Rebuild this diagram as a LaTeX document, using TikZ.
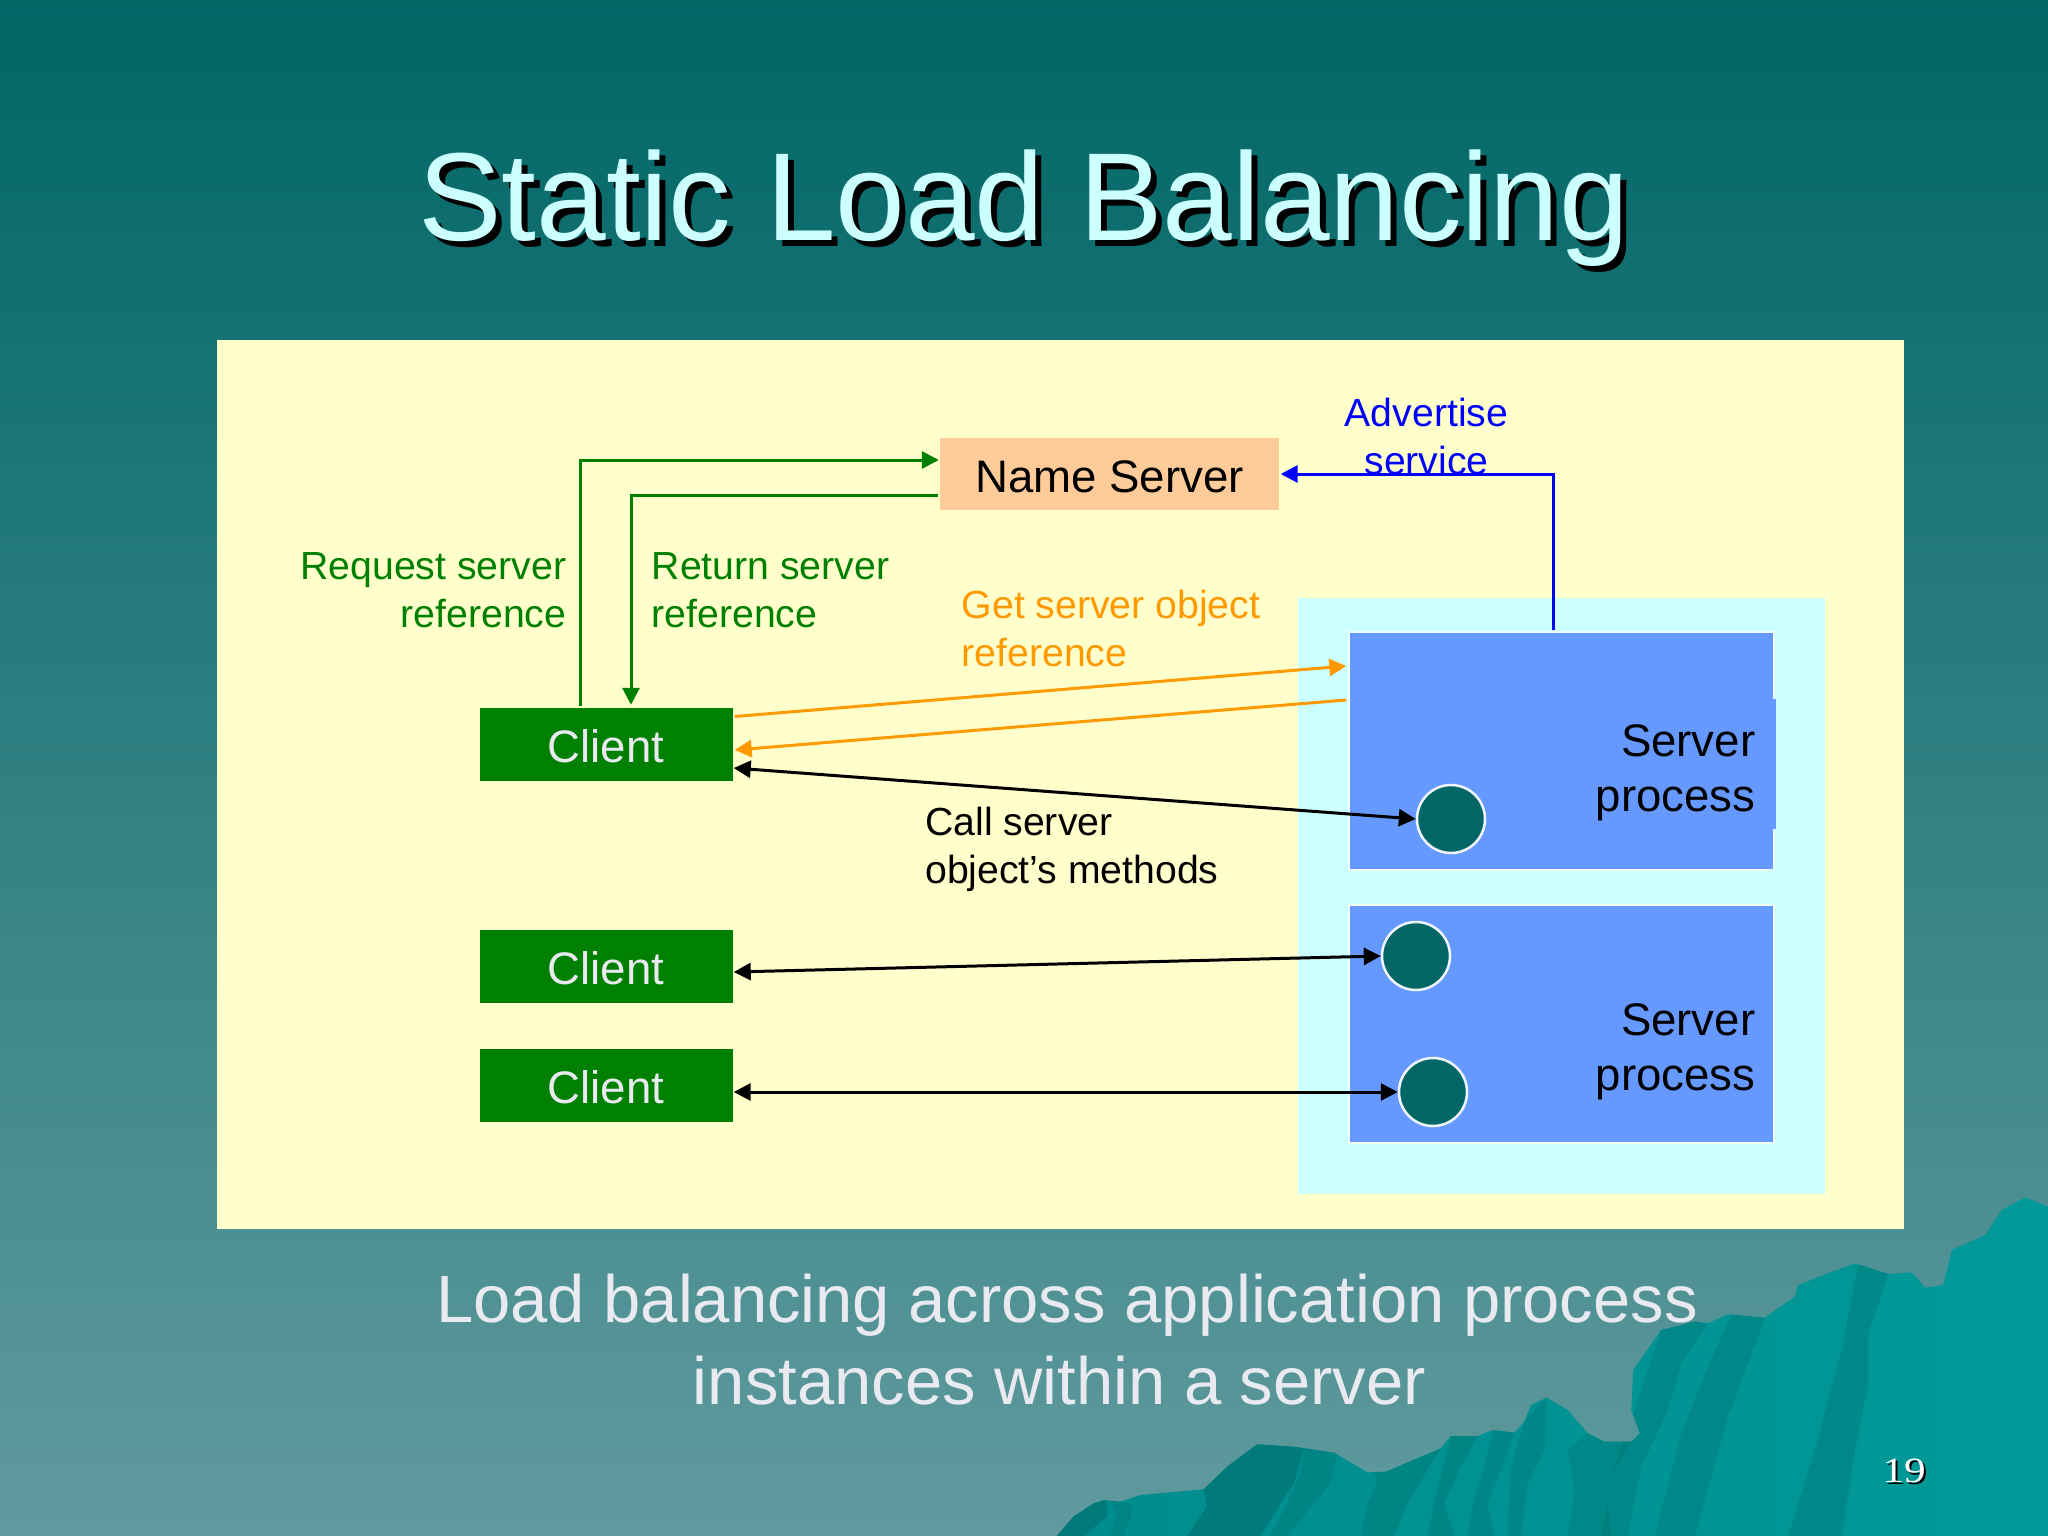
\documentclass[tikz,border=0pt]{standalone}
\usepackage{fontspec}
\setmainfont{Liberation Sans}
\newfontfamily\numfont[FakeStretch=1.22]{Liberation Serif}
\usetikzlibrary{arrows.meta}
\definecolor{bgtop}{HTML}{006666}
\definecolor{bgbot}{HTML}{609A9E}
\definecolor{mtleft}{HTML}{008C8C}
\definecolor{mtright}{HTML}{009999}
\definecolor{mtdark}{HTML}{007575}
\definecolor{titlecol}{HTML}{CCFFFF}
\definecolor{paneler}{HTML}{FFFFCC}
\definecolor{cyanbox}{HTML}{CCFFFF}
\definecolor{procblue}{HTML}{6699FF}
\definecolor{nsfill}{HTML}{FFCC99}
\definecolor{gr}{HTML}{008000}
\definecolor{orng}{HTML}{FF9900}
\definecolor{blu}{HTML}{0000FF}
\definecolor{sub}{HTML}{E8EAF0}
\tikzset{
  lbl/.style={inner sep=0pt,align=left,font=\fontsize{39.2pt}{48pt}\selectfont},
  big/.style={inner sep=0pt,align=right,font=\fontsize{45.6pt}{55pt}\selectfont},
  clientbox/.style={rectangle,fill=gr,draw=none,inner sep=0pt,minimum width=253pt,minimum height=73pt,
     text=sub,font=\fontsize{45.6pt}{55pt}\selectfont,text height=36pt,text depth=0pt},
  procbox/.style={rectangle,fill=procblue,draw=white!70!cyanbox,line width=1.5pt,inner sep=0pt,minimum width=425pt,minimum height=238pt},
  obj/.style={circle,fill=bgtop,draw=white!90!procblue,line width=2.5pt,inner sep=0pt,minimum size=68pt},
  conn/.style={line width=3pt,-{Triangle[length=17pt,width=17pt]}},
  conn2/.style={line width=3pt,{Triangle[length=17pt,width=17pt]}-{Triangle[length=17pt,width=17pt]}},
  facetA/.style={fill=mtdark,opacity=0.8},
  facetB/.style={fill=mtdark,opacity=0.4}
}
\begin{document}
\begin{tikzpicture}[x=1pt,y=-1pt]
\useasboundingbox (0,0) rectangle (2048,1536);
\shade[top color=bgtop,bottom color=bgbot] (0,0) rectangle (2048,1536);
% mountains
\begin{scope}[shift={(1000,1150)},x=0.66794pt,y=-0.33333pt]
\def\mtpath{(85,1158)--(110,1100)--(140,1060)--(155,1050)--(180,1055)--(210,1035)--(305,1018)--(340,950)--(385,883)--(440,890)--(500,908)--(550,967)--(578,965)--(660,895)--(675,858)--(715,858)--(738,840)--(770,848)--(785,815)--(795,765)--(818,743)--(850,780)--(880,850)--(905,875)--(945,875)--(958,850)--(945,780)--(948,660)--(990,540)--(1040,515)--(1060,520)--(1090,493)--(1145,503)--(1190,440)--(1195,405)--(1240,370)--(1280,340)--(1330,372)--(1365,367)--(1385,413)--(1412,405)--(1425,300)--(1475,255)--(1500,180)--(1535,142)--(1568,170)--(1568,1158)--cycle}
\shade[left color=mtleft,right color=mtright] \mtpath;
\begin{scope}
\clip \mtpath;
\fill[facetA] (385,883)--(440,890)--(455,893)--(440,1000)--(420,1060)--(390,1158)--(280,1158)--(310,1070)--(305,1018)--(340,950)--cycle;
\fill[facetB] (455,893)--(505,908)--(495,1000)--(450,1110)--(430,1158)--(405,1158)--(430,1060)--(450,970)--cycle;
\fill[facetA] (140,1060)--(160,1050)--(160,1100)--(125,1158)--(85,1158)--(110,1100)--cycle;
\fill[facetB] (165,1050)--(195,1060)--(200,1075)--(185,1158)--(165,1158)--(175,1090)--cycle;
\fill[facetB] (560,970)--(660,895)--(640,960)--(610,1060)--(590,1158)--(540,1158)--(550,1060)--(565,1000)--cycle;
\fill[facetB] (675,858)--(715,858)--(690,950)--(665,1060)--(680,1158)--(640,1158)--(650,1060)--cycle;
\fill[facetB] (738,840)--(770,848)--(750,960)--(730,1060)--(740,1158)--(700,1158)--(710,1050)--(725,950)--cycle;
\fill[facetB] (785,815)--(818,743)--(815,900)--(790,1000)--(780,1158)--(760,1158)--(765,950)--cycle;
\fill[facetB] (880,850)--(905,875)--(945,875)--(920,960)--(910,1060)--(915,1158)--(850,1158)--(860,1030)--(850,900)--cycle;
\fill[facetB] (990,540)--(1040,515)--(1060,520)--(1020,640)--(1000,780)--(960,950)--(940,1158)--(900,1158)--(920,950)--(950,780)--cycle;
\fill[facetB] (1095,493)--(1145,503)--(1120,640)--(1090,800)--(1040,1158)--(980,1158)--(1020,850)--(1060,650)--cycle;
\fill[facetB] (1285,340)--(1330,372)--(1300,550)--(1300,700)--(1280,900)--(1260,1158)--(1180,1158)--(1220,900)--(1260,600)--cycle;
\end{scope}
\end{scope}
% title
\node[anchor=base west,inner sep=0pt,text=black,font=\fontsize{125.2pt}{130pt}\selectfont] (titleshadow) at (424,246) {Static Load Balancing};
\node[anchor=base west,inner sep=0pt,text=titlecol,font=\fontsize{125.2pt}{130pt}\selectfont] (title) at (418,240) {Static Load Balancing};
% panels
\fill[paneler] (217,340) rectangle (1904,1229);
\fill[cyanbox] (1298,598) rectangle (1825,1194);
% boxes
\node[procbox] (box1) at (1561.5,751) {};
\fill[procblue] (1770,699) rectangle (1776,829);
\node[procbox] (box2) at (1561.5,1024) {};
\node[rectangle,fill=nsfill,inner sep=0pt,minimum width=339pt,minimum height=72pt,font=\fontsize{45.6pt}{55pt}\selectfont,text height=36pt,text depth=0pt] (name) at (1109.5,474) {Name Server};
\node[clientbox] (client1) at (606,744.5) {Client};
\node[clientbox] (client2) at (606,966.5) {Client};
\node[clientbox] (client3) at (606,1085.5) {Client};
\node[obj] (circle1) at (1451,819) {};
\node[obj] (circle2) at (1416,956) {};
\node[obj] (circle3) at (1433,1092) {};
% labels
\node[lbl,align=right,text=gr,anchor=north east] (reqlbl) at (566.5,552.5) {Request server\\reference};
\node[lbl,text=gr,anchor=north west] (retlbl) at (651.5,552.5) {Return server\\reference};
\node[lbl,text=orng,anchor=north west] (getlbl) at (961.5,590) {Get server object\\reference};
\node[lbl,align=center,text=blu,anchor=north] (advlbl) at (1426.5,398) {Advertise\\service};
\node[lbl,text=black,anchor=north west] (calllbl) at (925,807) {Call server\\object’s methods};
\node[big,text=black,anchor=north east] (proc1) at (1755.5,724) {Server\\process};
\node[big,text=black,anchor=north east] (proc2) at (1755.5,1003) {Server\\process};
% connectors
\draw[conn,gr] ([xshift=-26pt,yshift=2pt]client1.north) |- ([shift={(-1pt,14pt)}]name.west);
\draw[conn,gr] ([yshift=-21pt,xshift=-2pt]name.west) -| ([shift={(25pt,3pt)}]client1.north);
\draw[conn,blu] ([xshift=-8.5pt,yshift=1pt]box1.north) |- ([shift={(1.5pt,0pt)}]name.east);
\draw[conn,orng] ([shift={(2pt,28pt)}]client1.east) -- ([shift={(-2pt,85pt)}]box1.west);
\draw[conn,orng] ([shift={(-2pt,51pt)}]box1.west) -- ([shift={(2pt,-5.5pt)}]client1.east);
\draw[conn2,black] ([shift={(1pt,-23.5pt)}]client1.east) -- (circle1.west);
\draw[conn2,black] ([shift={(1pt,-5.5pt)}]client2.east) -- (circle2.west);
\draw[conn2,black] ([shift={(1pt,-6.5pt)}]client3.east) -- (circle3.west);
% subtitle
\node[inner sep=0pt,align=center,text=sub,anchor=north,font=\fontsize{66.95pt}{82pt}\selectfont] (subtitle) at (1067,1274) {Load balancing across application process\\instances within a server\hspace*{15pt}};
% page number
\node[inner sep=0pt,anchor=base,text=black,font=\fontsize{35.5pt}{40pt}\numfont] (pageshadow) at (1906,1484) {19};
\node[inner sep=0pt,anchor=base,text=white,font=\fontsize{35.5pt}{40pt}\numfont] (page) at (1904,1482) {19};
\end{tikzpicture}
\end{document}
